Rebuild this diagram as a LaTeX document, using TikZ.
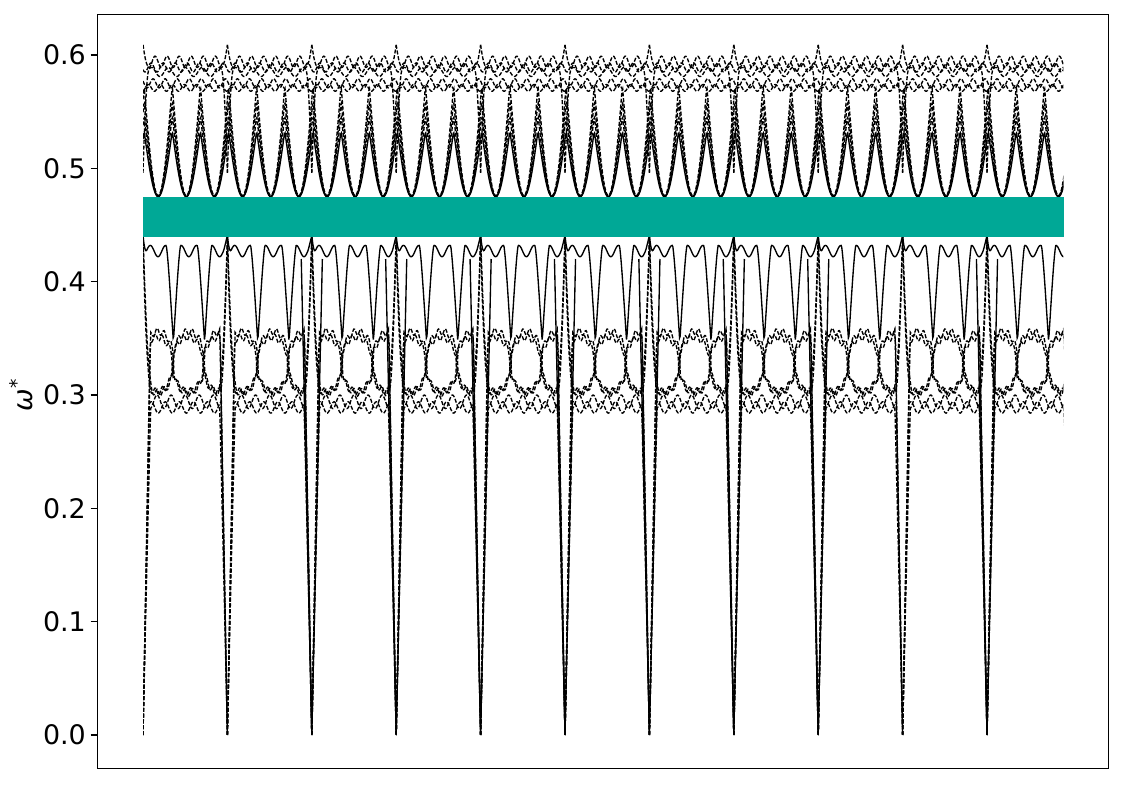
\documentclass[tikz,border=0pt]{standalone}
\usepackage{fontspec}
\setmainfont{DejaVu Sans}
\definecolor{gapteal}{RGB}{0,168,150}
\tikzset{
  declare function={
    fdd(\x)=min(\x,1-\x);
    fev(\x,\w)=min(1,fdd(\x)/\w);
    fpk(\x,\w)=(max(0,1-fdd(\x)/\w)+0.0001)^2;
    fcc(\x)=sin(180*(\x-0.36)/0.365);
    fcf(\x)=fcc(\x)*(abs(fcc(\x))+0.001)^(-0.6);
    fvd(\x,\xc,\w)=(max(0,1-abs(\x-\xc)/\w)+0.0001)^1.3;
    fu(\x)=1-abs(cos(540*(\x-0.18)));
  },
  bandd/.style={line width=1.35bp, dash pattern=on 4bp off 1.8bp},
  bands/.style={line width=1.35bp},
  frameline/.style={line width=1.1bp},
  ticklab/.style={anchor=east, inner sep=0pt, font=\fontsize{27}{27}\selectfont},
}
\begin{document}
\begin{tikzpicture}[x=1bp,y=1bp]
\useasboundingbox (0,0) rectangle (1125,785);
% data
\begin{scope}[shift={(143,50)}, x=84.4bp, y=1133.3bp]
  \begin{scope}
    \clip (0,-0.05) rectangle (10.906,0.7);
    \foreach \k in {0,...,10}{
      % lower group
      \draw[bandd] plot[domain=0:1,samples=121] ({\k+\x},{fev(\x,0.09)*(0.294+0.006*cos(2160*\x))});
      \draw[bandd] plot[domain=0:1,samples=121] ({\k+\x},{fev(\x,0.075)*(0.289+0.005*cos(2160*\x+150))});
      \draw[bandd] plot[domain=0:1,samples=121] ({\k+\x},{fev(\x,0.09)*(0.329-0.027*fcf(\x)+0.003*cos(4320*\x))});
      \draw[bandd] plot[domain=0:1,samples=121] ({\k+\x},{fev(\x,0.085)*(0.327-0.024*fcf(\x+0.012)+0.003*cos(4320*\x+90))});
      \draw[bandd] plot[domain=0:1,samples=121] ({\k+\x},{(0.329+0.027*fcf(\x)+0.003*cos(4320*\x))*(1-fpk(\x,0.11))+0.44*fpk(\x,0.11)});
      \draw[bandd] plot[domain=0:1,samples=121] ({\k+\x},{(0.327+0.024*fcf(\x+0.012)+0.003*cos(4320*\x+90))*(1-fpk(\x,0.09))+0.436*fpk(\x,0.09)});
      \draw[bands] plot[domain=0:1,samples=141] ({\k+\x},{(0.427-0.005*cos(360*(\x-0.36)/0.1825)-0.075*(fvd(\x,0.36,0.085)+fvd(\x,0.73,0.085)))*(1-fpk(\x,0.05))+0.441*fpk(\x,0.05)});
      % upper group
      \draw[bands] plot[domain=0:1,samples=121] ({\k+\x},{0.475+0.058*fu(\x)});
      \draw[bandd] plot[domain=0:1,samples=121] ({\k+\x},{0.475+0.072*fu(\x)});
      \draw[bandd] plot[domain=0:1,samples=121] ({\k+\x},{0.475+0.085*fu(\x)});
      \draw[bandd] plot[domain=0:1,samples=121] ({\k+\x},{0.476+0.097*fu(\x)});
      \draw[bandd] plot[domain=0:1,samples=121] ({\k+\x},{0.594+0.005*cos(2520*\x)+0.01*fpk(\x,0.04)});
      \draw[bandd] plot[domain=0:1,samples=121] ({\k+\x},{0.589+0.004*cos(2520*\x+120)});
      \draw[bandd] plot[domain=0:1,samples=121] ({\k+\x},{0.575+0.004*cos(2520*\x+60)});
      \draw[bandd] plot[domain=0:1,samples=121] ({\k+\x},{0.571+0.003*cos(2520*\x+200)});
      \draw[bandd] plot[domain=0:1,samples=121] ({\k+\x},{0.585-0.004*cos(1800*\x)-0.085*fpk(\x,0.07)});
    }
    % solid branches reaching zero at some boundaries
    \foreach \b in {2,3,4,5,6,7,8,10}{
      \draw[bands] (\b-0.125,0.42) -- (\b,0) -- (\b+0.125,0.42);
    }
  \end{scope}
  % band gap
  \fill[gapteal] (0,0.4394) rectangle (10.912,0.4747);
\end{scope}
% frame
\draw[frameline] (97.7,16.3) rectangle (1108.7,770.7);
% ticks and labels
\foreach \i/\lab in {0/0.0,1/0.1,2/0.2,3/0.3,4/0.4,5/0.5,6/0.6}{
  \draw[frameline] (90.5,{50+113.33*\i}) -- (97.7,{50+113.33*\i});
  \node[ticklab] (tick\i) at (86,{50+113.33*\i}) {\lab};
}
\node[rotate=90, inner sep=0pt, font=\fontsize{27}{27}\selectfont] (ylab) at (21,390) {{\itshape ω}\textsuperscript{*}};
\end{tikzpicture}
\end{document}
